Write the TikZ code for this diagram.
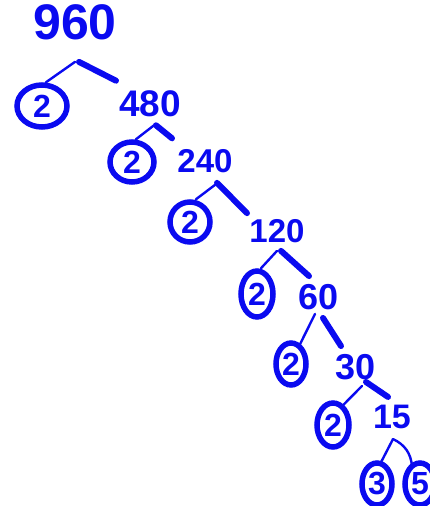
\documentclass[tikz,border=0pt]{standalone}
\usepackage{fontspec}
\setsansfont{Liberation Sans}
\usepackage{tikz}
\usetikzlibrary{shapes.geometric}
\definecolor{inkblue}{HTML}{0A0AF0}

\begin{document}
\begin{tikzpicture}[
  x=1pt, y=-1pt,
  font=\sffamily,
  num/.style={
    inner sep=0pt,
    text=inkblue,
    font=\sffamily\bfseries\fontsize{#1}{#1}\selectfont
  },
  prime/.style={
    draw=inkblue,
    ellipse,
    line width=5.5pt,
    inner sep=0pt,
    text=inkblue,
    font=\sffamily\bfseries\fontsize{32}{32}\selectfont
  },
  leftbranch/.style={
    draw=inkblue,
    line width=2.4pt,
    line cap=round
  },
  rightbranch/.style={
    draw=inkblue,
    line width=6pt,
    line cap=round
  }
]
  \useasboundingbox (0,0) rectangle (429,506);

  % --- COMPOSITE NUMBERS ---
  \node[num=50] (n960) at (75,22) {960};
  \node[num=37] (n480) at (150,104) {480};
  \node[num=33] (n240) at (205,161) {240};
  \node[num=33] (n120) at (277,231) {120};
  \node[num=36] (n60)  at (319,297) {60};
  \node[num=36] (n30)  at (356,367) {30};
  \node[num=34] (n15)  at (392,417) {15};

  % --- PRIME FACTORS ---
  \node[prime, minimum width=50pt, minimum height=42pt] (p1) at (42,106) {2};
  \node[prime, minimum width=44pt, minimum height=40pt] (p2) at (132,162) {2};
  \node[prime, minimum width=40pt, minimum height=40pt] (p3) at (190,222) {2};
  \node[prime, minimum width=32pt, minimum height=46pt] (p4) at (257,294) {2};
  \node[prime, minimum width=30pt, minimum height=42pt] (p5) at (291,364) {2};
  \node[prime, minimum width=32pt, minimum height=44pt] (p6) at (333,425) {2};
  \node[prime, minimum width=30pt, minimum height=42pt] (p7) at (377,484) {3};
  \node[prime, minimum width=30pt, minimum height=42pt] (p8) at (420,484) {5};

  % --- BRANCHES ---
  \draw[leftbranch]  ([yshift=-22pt]n960.south) -- ([xshift=4pt]p1.north);
  \draw[rightbranch] ([xshift=4pt,yshift=-22pt]n960.south) -- ([xshift=-34pt,yshift=10pt]n480.north);

  \draw[leftbranch]  ([xshift=4pt,yshift=-8pt]n480.south) -- ([xshift=4pt]p2.north);
  \draw[rightbranch] ([xshift=6pt,yshift=-8pt]n480.south) -- ([xshift=22pt,yshift=-21pt]n480.south);

  \draw[leftbranch]  ([xshift=10pt,yshift=-12pt]n240.south) -- ([xshift=6pt]p3.north);
  \draw[rightbranch] ([xshift=12pt,yshift=-10pt]n240.south) -- ([xshift=-30pt,yshift=6pt]n120.north);

  \draw[leftbranch]  ([yshift=-8pt]n120.south) -- ([xshift=4pt]p4.north);
  \draw[rightbranch] ([xshift=4pt,yshift=-8pt]n120.south) -- ([xshift=-10pt,yshift=8pt]n60.north);

  \draw[leftbranch]  ([xshift=-4pt,yshift=-4pt]n60.south) -- ([xshift=8pt,yshift=-6pt]p5.north);
  \draw[rightbranch] ([xshift=4pt,yshift=-8pt]n60.south) -- ([xshift=-15pt,yshift=8pt]n30.north);

  \draw[leftbranch]  ([xshift=6pt,yshift=-6pt]n30.south) -- ([xshift=9pt,yshift=-6pt]p6.north);
  \draw[rightbranch] ([xshift=10pt,yshift=-2pt]n30.south) -- ([xshift=-4pt,yshift=8pt]n15.north);

  \draw[leftbranch]  ([xshift=1pt,yshift=-10pt]n15.south) -- ([xshift=3pt,yshift=-4pt]p7.north);
  \draw[leftbranch]  ([xshift=1pt,yshift=-10pt]n15.south) to[bend left=30] ([xshift=-8pt,yshift=-6pt]p8.north);
\end{tikzpicture}
\end{document}
